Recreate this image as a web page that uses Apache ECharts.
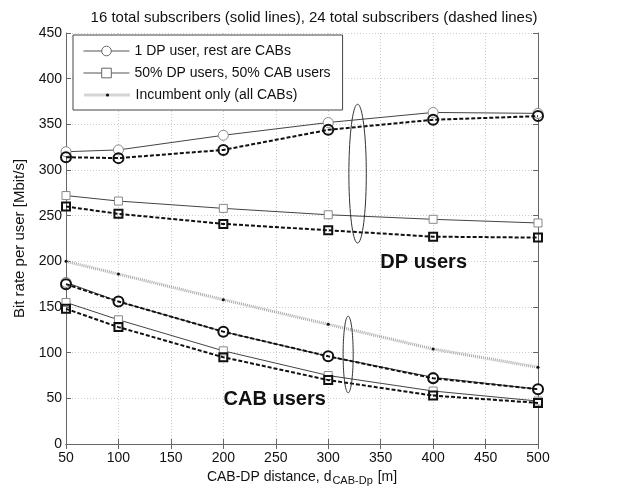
<!DOCTYPE html>
<html><head><meta charset="utf-8">
<script src="https://cdn.jsdelivr.net/npm/echarts@6/dist/echarts.min.js"></script>
<style>html,body{margin:0;padding:0;background:#fff}#c{width:618px;height:493px}</style>
</head><body><div id="c"></div>
<script>
const distances = [50, 100, 200, 300, 400, 500];
// DP users
const dpOne16 = [320, 322, 338, 352, 363, 362];
const dpOne24 = [314, 313, 322, 344, 355, 359];
const dpHalf16 = [272, 266, 258, 251, 246, 242];
const dpHalf24 = [260, 252, 241, 234, 227, 226];
// CAB users
const incumbent = [200, 186, 158, 131, 104, 84];
const cabOne16 = [177, 156, 123, 96, 73, 60];
const cabOne24 = [175, 156, 123, 96, 72, 60];
const cabHalf16 = [155, 136, 102, 75, 58, 47];
const cabHalf24 = [148, 128, 95, 70, 53, 45];
const xTicks = [50, 100, 150, 200, 250, 300, 350, 400, 450, 500];
const yTicks = [0, 50, 100, 150, 200, 250, 300, 350, 400, 450];
// ellipse annotations: [cx, cy, rx, ry] in data units
const ellipses = [[328, 296, 8.3, 76], [319, 98, 4.8, 42]];
// text annotations: [x, y, label]
const notes = [[391, 199, 'DP users'], [249, 49, 'CAB users']];

const names = ['1 DP user, rest are CABs', '50% DP users, 50% CAB users', 'Incumbent only (all CABs)'];
const FONT = 'Liberation Sans, Arial, sans-serif';

function pairs(arr) { return distances.map((d, i) => [d, arr[i]]); }

function solid(name, arr, sym, size) {
  return {
    name: name, type: 'line', data: pairs(arr), symbol: sym, symbolSize: size,
    lineStyle: { color: '#444', width: 1 },
    itemStyle: { color: '#fff', borderColor: '#888', borderWidth: 1 },
    z: 3, animation: false
  };
}
function dashed(name, arr, sym, size) {
  return {
    name: name, type: 'line', data: pairs(arr), symbol: sym, symbolSize: size,
    lineStyle: { color: '#111', width: 2, type: [4, 2] },
    itemStyle: { color: 'rgba(255,255,255,0)', borderColor: '#111', borderWidth: 2 },
    z: 4, animation: false
  };
}

const chart = echarts.init(document.getElementById('c'), null, { renderer: 'canvas' });
const axisCommon = {
  type: 'value', min: 0, max: 450, interval: 50,
  axisLine: { show: true, lineStyle: { color: '#666', width: 1 } },
  axisTick: { show: true, inside: true, length: 5, lineStyle: { color: '#666' } },
};
const option = {
  backgroundColor: '#fff',
  animation: false,
  textStyle: { fontFamily: FONT },
  title: {
    text: '16 total subscribers (solid lines), 24 total subscribers (dashed lines)',
    left: 309, top: 5, textAlign: 'center',
    textStyle: { fontSize: 15, fontWeight: 'normal', color: '#111', fontFamily: FONT }
  },
  grid: { left: 66, right: 80, top: 33, bottom: 49, outerBoundsMode: 'none', containLabel: false },
  legend: [{
    orient: 'vertical', left: 73, top: 35,
    data: [names[0], names[1]],
    itemWidth: 46, itemHeight: 12, itemGap: 8,
    padding: [9, 12, 30, 10],
    borderColor: '#444', borderWidth: 1, backgroundColor: '#fff',
    lineStyle: { width: 1, color: '#555' },
    itemStyle: { borderWidth: 1, borderColor: '#666' },
    textStyle: { fontSize: 14, color: '#111', fontFamily: FONT },
    z: 4
  }, {
    orient: 'vertical', left: 83, top: 88,
    data: [names[2]],
    itemWidth: 46, itemHeight: 4, padding: 0,
    lineStyle: { width: 3, color: '#aaa', type: [1, 1] },
    textStyle: { fontSize: 14, color: '#111', fontFamily: FONT },
    z: 5
  }],
  xAxis: [
    Object.assign({}, axisCommon, {
      min: 50, max: 500, interval: 50, position: 'bottom',
      axisLabel: { fontSize: 14, color: '#111', margin: 7, fontFamily: FONT },
      splitLine: { show: true, lineStyle: { color: '#ccc', type: [1, 2] } },
      name: '{a|CAB-DP distance, d}{s|CAB-Dp}{a| [m]}',
      nameLocation: 'middle', nameGap: 23,
      nameTextStyle: {
        color: '#111', fontFamily: FONT,
        rich: { a: { fontSize: 14, color: '#111', fontFamily: FONT }, s: { fontSize: 11, color: '#111', padding: [8, 1, 0, 1], fontFamily: FONT } }
      }
    }),
    Object.assign({}, axisCommon, {
      min: 50, max: 500, interval: 50, position: 'top',
      axisLabel: { show: false }, splitLine: { show: false }
    })
  ],
  yAxis: [
    Object.assign({}, axisCommon, {
      position: 'left',
      axisLabel: { fontSize: 14, color: '#111', margin: 4, fontFamily: FONT },
      splitLine: { show: true, lineStyle: { color: '#ccc', type: [1, 2] } },
      name: 'Bit rate per user [Mbit/s]', nameLocation: 'middle', nameGap: 37,
      nameTextStyle: { fontSize: 15, color: '#111', fontFamily: FONT }
    }),
    Object.assign({}, axisCommon, {
      position: 'right', axisLabel: { show: false }, splitLine: { show: false }
    })
  ],
  series: [
    solid(names[0], dpOne16, 'circle', 10),
    dashed('dpOne24', dpOne24, 'circle', 10),
    solid(names[1], dpHalf16, 'rect', 8),
    dashed('dpHalf24', dpHalf24, 'rect', 8),
    {
      name: names[2], type: 'line', data: pairs(incumbent), symbol: 'circle', symbolSize: 3,
      lineStyle: { color: '#aaa', width: 3, type: [1, 1] },
      itemStyle: { color: '#111', borderWidth: 0 }, z: 2
    },
    solid(names[0], cabOne16, 'circle', 10),
    dashed('cabOne24', cabOne24, 'circle', 10),
    solid(names[1], cabHalf16, 'rect', 8),
    dashed('cabHalf24', cabHalf24, 'rect', 8),
    {
      name: 'ellipses', type: 'custom', data: ellipses, z: 5, silent: true,
      renderItem: function (params, api) {
        const cx = api.value(0), cy = api.value(1), rx = api.value(2), ry = api.value(3);
        const pts = [];
        for (let k = 0; k <= 72; k++) {
          const t = k / 72 * Math.PI * 2;
          pts.push(api.coord([cx + rx * Math.cos(t), cy + ry * Math.sin(t)]));
        }
        return { type: 'polygon', shape: { points: pts }, style: { fill: 'none', stroke: '#333', lineWidth: 1 } };
      }
    },
    {
      name: 'notes', type: 'custom', data: notes, z: 6, silent: true,
      renderItem: function (params, api) {
        const p = api.coord([api.value(0), api.value(1)]);
        return {
          type: 'text', x: p[0], y: p[1],
          style: { text: notes[params.dataIndex][2], fill: '#111', font: 'bold 20px ' + FONT, align: 'center', verticalAlign: 'middle' }
        };
      }
    }
  ]
};
chart.setOption(option);
</script>
</body></html>
